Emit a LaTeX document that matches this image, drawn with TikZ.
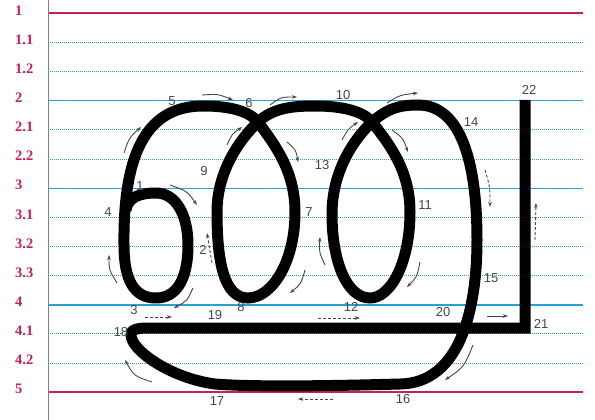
\documentclass[tikz,border=0pt]{standalone}
\usepackage{fontspec}
\setmainfont{Liberation Serif}
\newfontfamily\numfont{Liberation Sans}
\usetikzlibrary{arrows.meta}
\definecolor{rulered}{RGB}{200,30,90}
\definecolor{ruleblue}{RGB}{40,160,215}
\definecolor{hintgray}{RGB}{70,70,70}
\tikzset{redrule/.style={rulered,line width=2pt},
  bluerule/.style={ruleblue,line width=1.4pt},
  guide/.style={ruleblue,line width=1pt,densely dotted},
  lvl/.style={anchor=west,inner sep=0pt,text=rulered,font=\fontsize{14.5}{14.5}\selectfont\bfseries},
  num/.style={inner sep=0pt,text=hintgray,font=\numfont\fontsize{13}{13}\selectfont},
  pen/.style={line width=11pt,line join=miter},
  hint/.style={-{Stealth[length=5pt,width=3.5pt]},hintgray,line width=0.9pt}}

\begin{document}
\begin{tikzpicture}[x=1pt,y=-1pt]
\useasboundingbox (0,0) rectangle (595,420);
% ruled lines
\foreach \k in {1,2,4,5,7,8,9,11,12} \draw[guide] (48,{13.3+29.15*\k}) -- (583,{13.3+29.15*\k});
\foreach \k in {3,6,10} \draw[bluerule] (48,{13.3+29.15*\k}) -- (583,{13.3+29.15*\k});
\foreach \k in {0,13} \draw[redrule] (48,{13.3+29.15*\k}) -- (583,{13.3+29.15*\k});
\draw[gray,line width=0.8pt] (48,0) -- (48,420);
\foreach \lbl [count=\k from 0] in {1,1.1,1.2,2,2.1,2.2,3,3.1,3.2,3.3,4,4.1,4.2,5}
  \node[lvl] (lvl\k) at (15,{13.3+29.15*\k-3}) {\lbl};

% the letter
\draw[pen] (126,210) .. controls (128,197) and (140,193) .. (156,193)
 .. controls (176,193) and (188,215) .. (188,245)
 .. controls (188,280) and (176,298) .. (156,298)
 .. controls (134,298) and (124,280) .. (124,245)
 .. controls (123,160) and (143,106) .. (203,106)
 .. controls (230,106) and (249,111) .. (258,122)
 .. controls (276,146) and (295,172) .. (295,212)
 .. controls (295,262) and (272,298) .. (248,298)
 .. controls (224,298) and (217,262) .. (217,212)
 .. controls (217,172) and (239,140) .. (258,122)
 .. controls (273,108) and (292,106) .. (315,106)
 .. controls (342,106) and (363,111) .. (372,122)
 .. controls (391,146) and (410,172) .. (410,212)
 .. controls (410,262) and (391,298) .. (370,298)
 .. controls (347,298) and (332,262) .. (332,214)
 .. controls (332,172) and (353,140) .. (372,122)
 .. controls (388,108) and (400,105) .. (418,105)
 .. controls (460,105) and (477,160) .. (477,240)
 .. controls (477,310) and (460,383) .. (400,384)
 .. controls (330,386) and (250,387) .. (215,384)
 .. controls (170,378) and (131,350) .. (131,335)
 .. controls (131,329) and (138,328) .. (150,328)
 -- (525,328) -- (525,100);

% stroke order numbers
\node[num] (n1) at (140,186) {1};
\node[num] (n2) at (203,250) {2};
\node[num] (n3) at (134,310) {3};
\node[num] (n4) at (108,212) {4};
\node[num] (n5) at (172,101) {5};
\node[num] (n6) at (249,103) {6};
\node[num] (n7) at (309,212) {7};
\node[num] (n8) at (241,307) {8};
\node[num] (n9) at (204,171) {9};
\node[num] (n10) at (343,95) {10};
\node[num] (n11) at (425,205) {11};
\node[num] (n12) at (351,307) {12};
\node[num] (n13) at (322,165) {13};
\node[num] (n14) at (471,122) {14};
\node[num] (n15) at (491,278) {15};
\node[num] (n16) at (403,399) {16};
\node[num] (n17) at (217,401) {17};
\node[num] (n18) at (121,332) {18};
\node[num] (n19) at (215,315) {19};
\node[num] (n20) at (443,312) {20};
\node[num] (n21) at (541,324) {21};
\node[num] (n22) at (529,90) {22};

% direction hints
\draw[hint] (124,153) .. controls (129,138) .. (141,127);
\draw[hint] (202,95) .. controls (218,94) .. (233,100);
\draw[hint] (270,105) .. controls (281,97) .. (297,97);
\draw[hint] (227,145) .. controls (232,134) .. (242,127);
\draw[hint] (287,142) .. controls (296,150) .. (298,162);
\draw[hint] (170,185) .. controls (187,191) .. (197,205);
\draw[hint,densely dashed] (212,263) -- (207,233);
\draw[hint] (117,283) .. controls (109,270) .. (109,255);
\draw[hint] (193,288) .. controls (187,301) .. (174,308);
\draw[hint,densely dashed] (145,317) -- (172,317);
\draw[hint] (305,270) .. controls (301,284) .. (290,293);
\draw[hint] (325,265) .. controls (319,252) .. (320,237);
\draw[hint] (342,140) .. controls (348,129) .. (358,122);
\draw[hint] (387,103) .. controls (400,95) .. (418,93);
\draw[hint] (392,130) .. controls (403,138) .. (408,152);
\draw[hint] (420,262) .. controls (417,277) .. (407,287);
\draw[hint,densely dashed] (485,170) .. controls (490,187) .. (490,207);
\draw[hint,densely dashed] (535,240) -- (536,203);
\draw[hint,densely dashed] (318,318) -- (360,318);
\draw[hint] (487,316) -- (508,316);
\draw[hint] (473,345) .. controls (464,367) .. (445,380);
\draw[hint,densely dashed] (333,399) -- (298,399);
\draw[hint] (152,382) .. controls (134,376) .. (125,360);
\end{tikzpicture}
\end{document}
